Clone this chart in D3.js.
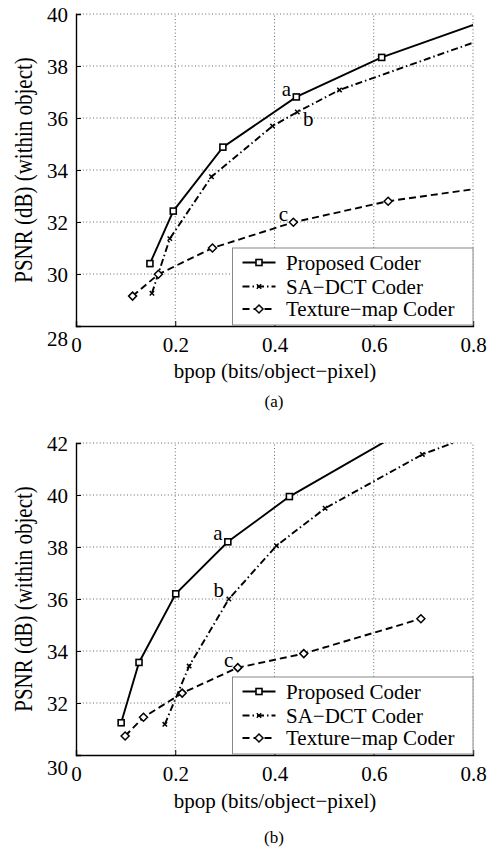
<!DOCTYPE html>
<html>
<head>
<meta charset="utf-8">
<script src="https://cdn.jsdelivr.net/npm/d3@7"></script>
<style>
  html, body { margin: 0; padding: 0; background: #fff; }
</style>
</head>
<body>
<svg id="fig" width="487" height="850"></svg>
<script>
// Rate–distortion curves: PSNR inside the object vs. bits per object pixel
const FONT = "'Liberation Serif', 'Times New Roman', Times, serif";
const seriesNames = ["Proposed Coder", "SA\u2212DCT Coder", "Texture\u2212map Coder"];
const xTicks = [0, 0.2, 0.4, 0.6, 0.8];
const yTicksA = [28, 30, 32, 34, 36, 38, 40];
const yTicksB = [30, 32, 34, 36, 38, 40, 42];

// Panel (a)
const aProposedX = [0.149, 0.196, 0.296, 0.444, 0.616, 0.9];
const aProposedY = [30.40, 32.42, 34.88, 36.81, 38.33, 40.26];
const aSadctX = [0.153, 0.189, 0.273, 0.396, 0.446, 0.531, 0.9];
const aSadctY = [29.26, 31.36, 33.74, 35.69, 36.23, 37.08, 39.57];
const aTextureX = [0.114, 0.166, 0.275, 0.438, 0.629, 0.9];
const aTextureY = [29.15, 29.99, 31.00, 31.99, 32.80, 33.53];

// Panel (b)
const bProposedX = [0.091, 0.127, 0.201, 0.306, 0.430, 0.70];
const bProposedY = [31.24, 33.56, 36.20, 38.20, 39.94, 42.9];
const bSadctX = [0.179, 0.228, 0.308, 0.404, 0.502, 0.698, 0.90];
const bSadctY = [31.18, 33.42, 36.00, 38.05, 39.49, 41.56, 43.0];
const bTextureX = [0.099, 0.136, 0.214, 0.326, 0.459, 0.695];
const bTextureY = [30.73, 31.45, 32.38, 33.36, 33.90, 35.24];

// Operating points marked a / b / c: [series index, point index, label]
const aMarks = [[0, 3, "a"], [1, 4, "b"], [2, 3, "c"]];
const bMarks = [[0, 3, "a"], [1, 2, "b"], [2, 3, "c"]];

const zip = (xs, ys) => xs.map((x, i) => ({x, y: ys[i]}));

const svg = d3.select("#fig");

const styles = [
  {dash: null, marker: "square"},
  {dash: "7,3,1.5,3", marker: "cross"},
  {dash: "7,4", marker: "diamond"}
];

function label(sel, size) {
  return sel.style("font-family", FONT).style("font-size", size + "px").attr("fill", "#000");
}

function drawMarker(g, type, cx, cy) {
  if (type === "square") {
    g.append("rect").attr("x", cx - 3).attr("y", cy - 3).attr("width", 6).attr("height", 6)
      .attr("fill", "#fff").attr("stroke", "#000").attr("stroke-width", 1.6);
  } else if (type === "cross") {
    const s = 2.2;
    g.append("path").attr("d", `M${cx - s},${cy - s}L${cx + s},${cy + s}M${cx - s},${cy + s}L${cx + s},${cy - s}`)
      .attr("stroke", "#000").attr("stroke-width", 1.5).attr("fill", "none");
  } else {
    const s = 4;
    g.append("path").attr("d", `M${cx},${cy - s}L${cx + s},${cy}L${cx},${cy + s}L${cx - s},${cy}Z`)
      .attr("fill", "#fff").attr("stroke", "#000").attr("stroke-width", 1.5);
  }
}

function panel(opts) {
  const {id, yDomain, yRange, yTicks, series, marks, legendTop, titleY, capY, caption} = opts;
  const x = d3.scaleLinear().domain([0, 0.8]).range([76, 473]);
  const y = d3.scaleLinear().domain(yDomain).range(yRange);
  const g = svg.append("g");

  // clip region = axes box
  g.append("clipPath").attr("id", "clip" + id).append("rect")
    .attr("x", x(0)).attr("y", y(yDomain[1])).attr("width", x(0.8) - x(0))
    .attr("height", y(yDomain[0]) - y(yDomain[1]));

  // dotted grid
  const grid = g.append("g").attr("stroke", "#666").attr("stroke-width", 1)
    .attr("stroke-dasharray", "1,2.4");
  xTicks.filter(t => t > 0).forEach(t => {
    grid.append("line").attr("x1", x(t)).attr("x2", x(t))
      .attr("y1", y(yDomain[0])).attr("y2", y(yDomain[1]));
  });
  yTicks.filter(t => t > yDomain[0]).forEach(t => {
    grid.append("line").attr("x1", x(0)).attr("x2", x(0.8))
      .attr("y1", y(t)).attr("y2", y(t));
  });

  // axes: ticks pointing inward
  const xAxis = d3.axisTop(x).tickValues(xTicks).tickSize(5).tickFormat(d3.format("~g"));
  const gx = g.append("g").attr("transform", `translate(0,${y(yDomain[0])})`).call(xAxis);
  gx.select(".domain").attr("stroke", "#000").attr("stroke-width", 1.4);
  gx.selectAll(".tick line").attr("stroke", "#000");
  label(gx.selectAll(".tick text"), 21).attr("y", 26).attr("dy", 0);

  const yAxis = d3.axisRight(y).tickValues(yTicks).tickSize(5).tickFormat(d3.format("d"));
  const gy = g.append("g").attr("transform", `translate(${x(0)},0)`).call(yAxis);
  gy.select(".domain").attr("stroke", "#000").attr("stroke-width", 1.4);
  gy.selectAll(".tick line").attr("stroke", "#000");
  label(gy.selectAll(".tick text"), 21).attr("x", -8).attr("text-anchor", "end")
    .attr("dy", d => d === yDomain[0] ? "0.95em" : "0.34em");
  gy.selectAll(".tick").filter(d => d === yDomain[0]).select("line").remove();

  // curves
  const line = d3.line().x(d => x(d.x)).y(d => y(d.y));
  const plot = g.append("g").attr("clip-path", `url(#clip${id})`);
  series.forEach((pts, i) => {
    plot.append("path").datum(pts).attr("d", line).attr("fill", "none")
      .attr("stroke", "#000").attr("stroke-width", 1.9)
      .attr("stroke-dasharray", styles[i].dash);
    pts.forEach(p => drawMarker(plot, styles[i].marker, x(p.x), y(p.y)));
  });

  // annotation letters
  const offs = opts.markOffsets;
  marks.forEach(([si, pi, lab], k) => {
    const p = series[si][pi];
    label(g.append("text"), 21).attr("x", x(p.x) + offs[k][0]).attr("y", y(p.y) + offs[k][1])
      .attr("dy", "0.35em").attr("text-anchor", "middle").text(lab);
  });

  // legend
  const lg = g.append("g").attr("transform", `translate(232.5,${legendTop})`);
  lg.append("rect").attr("width", 240.5).attr("height", 77).attr("fill", "#fff")
    .attr("stroke", "#888").attr("stroke-width", 1);
  const rowY = [14.5, 38.5, 61];
  seriesNames.forEach((name, i) => {
    lg.append("line").attr("x1", 10).attr("x2", 43).attr("y1", rowY[i]).attr("y2", rowY[i])
      .attr("stroke", "#000").attr("stroke-width", 1.9).attr("stroke-dasharray", styles[i].dash);
    drawMarker(lg, styles[i].marker, 26.5, rowY[i]);
    label(lg.append("text"), 21).attr("x", 53.5).attr("y", rowY[i]).attr("dy", "0.34em").text(name);
  });

  // axis titles and caption
  label(g.append("text"), 21).attr("x", 275).attr("y", titleY).attr("text-anchor", "middle")
    .text("bpop (bits/object\u2212pixel)");
  const cy = (yRange[0] + yRange[1]) / 2;
  label(g.append("text"), 21).attr("transform", `translate(31.5,${cy}) rotate(-90) scale(1,1.22)`)
    .attr("text-anchor", "middle").text("PSNR (dB) (within object)");
  label(g.append("text"), 17).attr("x", 274).attr("y", capY).attr("text-anchor", "middle")
    .text(caption);
}

panel({
  id: "a", yDomain: [28, 40], yRange: [326, 14], yTicks: yTicksA,
  series: [zip(aProposedX, aProposedY), zip(aSadctX, aSadctY), zip(aTextureX, aTextureY)],
  marks: aMarks, markOffsets: [[-10, -8], [11, 7], [-10, -9]],
  legendTop: 248, titleY: 378, capY: 407, caption: "(a)"
});

panel({
  id: "b", yDomain: [30, 42], yRange: [755, 443], yTicks: yTicksB,
  series: [zip(bProposedX, bProposedY), zip(bSadctX, bSadctY), zip(bTextureX, bTextureY)],
  marks: bMarks, markOffsets: [[-10, -9], [-10, -9], [-9, -8]],
  legendTop: 677, titleY: 808, capY: 843, caption: "(b)"
});
</script>
</body>
</html>
